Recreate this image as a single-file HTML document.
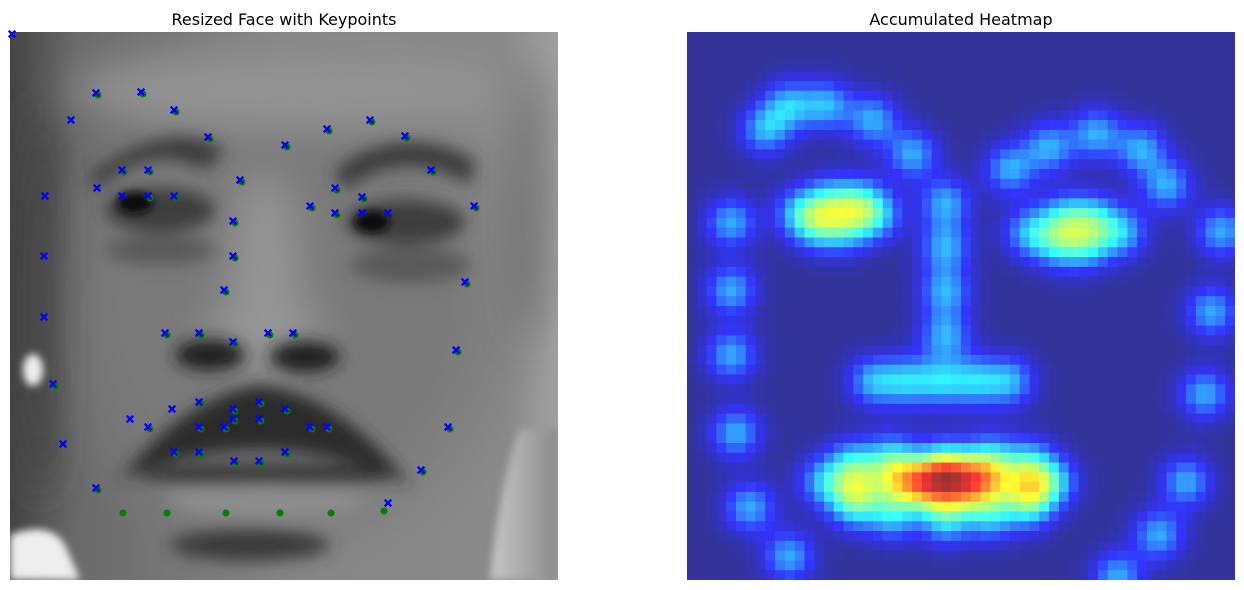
<!DOCTYPE html>
<html><head><meta charset="utf-8">
<style>
html,body{margin:0;padding:0;background:#fff;width:1244px;height:590px;overflow:hidden;font-family:"DejaVu Sans","Liberation Sans",sans-serif;}
body{position:relative;}
svg{position:absolute;left:0;top:0;display:block;overflow:hidden;}
</style></head>
<body>
<svg id="chart" width="1244" height="590" viewBox="0 0 1244 590">
  <defs>
    <filter id="b8" x="-50%" y="-50%" width="200%" height="200%"><feGaussianBlur stdDeviation="8"/></filter>
    <filter id="b4" x="-50%" y="-50%" width="200%" height="200%"><feGaussianBlur stdDeviation="4"/></filter>
    <filter id="b20" x="-50%" y="-50%" width="200%" height="200%"><feGaussianBlur stdDeviation="20"/></filter>
    <clipPath id="clipL"><rect x="10" y="32" width="548" height="548"/></clipPath>
    <linearGradient id="bgL" x1="0" y1="0" x2="1" y2="0">
      <stop offset="0" stop-color="#444"/><stop offset="0.12" stop-color="#6a6a6a"/><stop offset="0.5" stop-color="#858585"/><stop offset="0.9" stop-color="#8a8a8a"/><stop offset="1" stop-color="#a0a0a0"/>
    </linearGradient>
    <radialGradient id="faceC"><stop offset="0.6" stop-color="#7a7a7a"/><stop offset="1" stop-color="#7a7a7a" stop-opacity="0"/></radialGradient>
    <linearGradient id="brG" x1="0" y1="0" x2="1" y2="0"><stop offset="0" stop-color="#c8c8c8"/><stop offset="1" stop-color="#8a8a8a"/></linearGradient>
  </defs>
  <text x="284" y="25" font-size="16" text-anchor="middle" fill="#000">Resized Face with Keypoints</text>
  <text x="961" y="25" font-size="16" text-anchor="middle" fill="#000">Accumulated Heatmap</text>
  <g id="face" clip-path="url(#clipL)">
    <rect x="10" y="32" width="548" height="548" fill="url(#bgL)"/>
    <ellipse cx="285" cy="306" rx="270" ry="274" fill="url(#faceC)"/>
    <g filter="url(#b20)">
      <ellipse cx="290" cy="90" rx="220" ry="40" fill="#939393"/>
      <ellipse cx="265" cy="280" rx="35" ry="110" fill="#959595"/>
      <ellipse cx="265" cy="330" rx="60" ry="30" fill="#959595"/>
      <ellipse cx="40" cy="300" rx="15" ry="200" fill="#3a3a3a"/>
      <ellipse cx="530" cy="200" rx="10" ry="140" fill="#5a5a5a"/>
    </g>
    <g filter="url(#b4)">
      <path d="M10 535 Q50 520 65 545 L80 580 L10 580Z" fill="#eee"/>
      <path d="M520 430 Q500 480 490 580 L558 580 L558 430Z" fill="url(#brG)"/>
    </g>
    <g filter="url(#b8)">
      <path d="M90 175 Q170 115 225 150 L205 170 Q150 140 95 190Z" fill="#3a3a3a"/>
      <path d="M335 170 Q400 120 475 160 L470 185 Q400 145 345 190Z" fill="#3a3a3a"/>
      <ellipse cx="160" cy="210" rx="55" ry="22" fill="#3e3e3e"/>
      <ellipse cx="405" cy="222" rx="60" ry="22" fill="#3e3e3e"/>
      <ellipse cx="160" cy="250" rx="55" ry="15" fill="#5a5a5a"/>
      <ellipse cx="410" cy="265" rx="60" ry="18" fill="#5a5a5a"/>
      <ellipse cx="210" cy="355" rx="35" ry="15" fill="#1a1a1a"/>
      <ellipse cx="305" cy="357" rx="35" ry="15" fill="#1a1a1a"/>
      <path d="M120 480 Q180 400 260 385 Q340 395 410 485 Q330 450 260 450 Q190 450 120 480Z" fill="#2a2a2a"/>
      <ellipse cx="265" cy="475" rx="125" ry="10" fill="#2a2a2a"/>
      <ellipse cx="265" cy="500" rx="100" ry="16" fill="#8e8e8e"/>
      <ellipse cx="250" cy="545" rx="80" ry="16" fill="#3a3a3a"/>
    </g>
    <g filter="url(#b4)">
      <ellipse cx="135" cy="203" rx="18" ry="11" fill="#111"/>
      <ellipse cx="372" cy="222" rx="18" ry="11" fill="#111"/>
      <ellipse cx="33" cy="370" rx="10" ry="16" fill="#eee"/>
    </g>
  </g>
  <g id="marks"></g>
  <g id="heat"></g>
</svg>
<script>
// Keypoint data (image pixel coordinates, 0..548)
const predX = [86,131,164,61,198,275,317,360,395,112,138,87,35,112,138,164,230,223,325,300,352,325,352,378,421,464,34,223,455,214,34,155,189,258,283,223,446,43,162,189,249,223,275,120,138,189,214,223,249,300,317,438,53,164,189,224,249,275,411,86,378,2];
const predY = [61,60,78,88,105,113,97,88,104,138,138,156,164,164,164,164,148,189,156,174,165,181,181,181,138,174,224,224,250,258,285,301,301,301,301,310,318,352,377,370,370,377,377,387,395,395,395,387,387,395,395,395,412,420,420,429,429,420,438,456,471,2];
const gtIdx = [0,1,2,4,5,6,7,8,9,10,14,15,16,17,18,19,20,21,24,25,27,28,29,31,32,33,34,35,36,37,39,40,41,42,44,45,46,47,48,49,50,51,53,54,55,56,57,58,59];
const gtExtraX = [113,157,216,270,321,374];
const gtExtraY = [481,481,481,481,481,479];

// Heatmap landmarks (grid cell units, 56x56 grid)
const hmJawX = [4.5,4.5,4.5,5,6.4,10.4,44,48.2,51,52.9,53.6,54.6];
const hmJawY = [19.5,26.4,33,41,48.6,53.6,55.7,51.4,46,37,28.6,20.4];
const hmBrowX = [8,10.4,14.3,19,23,33,37,41.8,46.4,49];
const hmBrowY = [10,7.5,7.5,9,12.5,14,11.8,10.4,12,15.7];
const hmEyeX = [11.5,14.5,17.5,19.5,16.5,13.5, 35,38.5,41.5,44.5,41,38];
const hmEyeY = [18.5,17.3,17.3,18.7,20,20, 20.5,19,19,20.5,21.8,21.8];
const hmNoseX = [26.4,26.4,26.4,26.4,19,22.5,26,29.5,33];
const hmNoseY = [17.5,22,26.5,31,35.7,35.7,35.7,35.7,35.7];
const hmMouthX = [14,17,21,26.4,31,35,37.5,35,31,26.4,21,17,21,23.7,26.4,29.1,31.8,29.1,26.4,23.7,17.5,35];
const hmMouthY = [46,44,43.5,44,43.5,44,46,48.5,49.5,50,49.5,48.5,46,45.5,45.5,45.5,46,46.7,47,46.7,46.5,46.5];

const NS = 'http://www.w3.org/2000/svg';
const L0 = 10, T0 = 32, SZ = 548, IMG = 548;
const xL = v => L0 + v * SZ / IMG;
const yL = v => T0 + v * SZ / IMG;

const marks = document.getElementById('marks');
function dot(x, y) {
  const c = document.createElementNS(NS, 'circle');
  c.setAttribute('cx', xL(x)); c.setAttribute('cy', yL(y)); c.setAttribute('r', 3.5);
  c.setAttribute('fill', '#008000');
  
  
  marks.appendChild(c);
}
gtIdx.forEach(i => dot(predX[i] + 2, predY[i] + 2));
gtExtraX.forEach((x, i) => dot(x, gtExtraY[i]));
predX.forEach((x, i) => {
  const cx = xL(x), cy = yL(predY[i]), s = 3.3;
  const p = document.createElementNS(NS, 'path');
  p.setAttribute('d', `M${cx-s} ${cy-s}L${cx+s} ${cy+s}M${cx-s} ${cy+s}L${cx+s} ${cy-s}`);
  p.setAttribute('stroke', '#0000ff'); p.setAttribute('stroke-width', 2.3);
  
  
  marks.appendChild(p);
});

// Heatmap
const R0 = 687, N = 56, cell = SZ / N, sig = 1.8;
const hx = v => R0 + v * cell, hy = v => T0 + v * cell;
const ptsX = [].concat(hmJawX, hmBrowX, hmEyeX, hmNoseX, hmMouthX);
const ptsY = [].concat(hmJawY, hmBrowY, hmEyeY, hmNoseY, hmMouthY);
const grid = [];
let mx = 0;
for (let j = 0; j < N; j++) for (let i = 0; i < N; i++) {
  let s = 0;
  for (let k = 0; k < ptsX.length; k++) {
    const dx = i + 0.5 - ptsX[k], dy = j + 0.5 - ptsY[k];
    s += Math.exp(-(dx*dx + dy*dy) / (2*sig*sig));
  }
  grid.push(s); if (s > mx) mx = s;
}
function jet(v) {
  const r = Math.min(Math.max(Math.min(4*v - 1.5, -4*v + 4.5), 0), 1);
  const g = Math.min(Math.max(Math.min(4*v - 0.5, -4*v + 3.5), 0), 1);
  const b = Math.min(Math.max(Math.min(4*v + 0.5, -4*v + 2.5), 0), 1);
  const a = 0.8, w = 255*(1-a);
  return `rgb(${Math.round(r*255*a+w)},${Math.round(g*255*a+w)},${Math.round(b*255*a+w)})`;
}
const heat = document.getElementById('heat');
for (let j = 0; j < N; j++) for (let i = 0; i < N; i++) {
  const r = document.createElementNS(NS, 'rect');
  r.setAttribute('x', hx(i).toFixed(2)); r.setAttribute('y', hy(j).toFixed(2));
  r.setAttribute('width', (cell + (i < N-1 ? 0.4 : 0)).toFixed(2)); r.setAttribute('height', (cell + (j < N-1 ? 0.4 : 0)).toFixed(2));
  r.setAttribute('fill', jet(grid[j*N + i] / mx));
  
  
  heat.appendChild(r);
}
</script>
</body></html>
